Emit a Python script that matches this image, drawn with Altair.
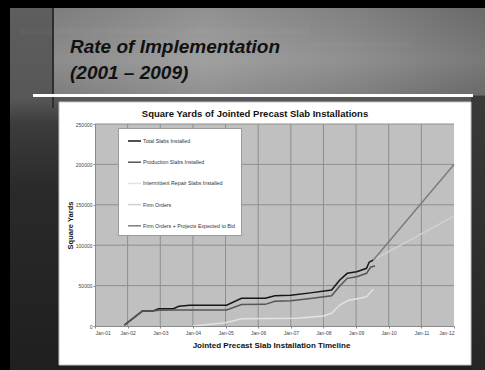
import altair as alt
import pandas as pd

# ---------------- data ----------------
series_names = [
    "Total Slabs Installed",
    "Production Slabs Installed",
    "Intermittent Repair Slabs Installed",
    "Firm Orders",
    "Firm Orders + Projects Expected to Bid",
]
series_colors = ["#161616", "#565656", "#e3e3e3", "#d0d0d0", "#7c7c7c"]

total_years = [2001.90, 2002.45, 2002.78, 2002.95, 2003.40, 2003.57, 2003.90, 2005.03,
               2005.49, 2006.22, 2006.51, 2007.00, 2007.60, 2008.25, 2008.50, 2008.73,
               2009.02, 2009.32, 2009.40, 2009.53]
total_values = [1000, 18500, 18500, 21500, 21500, 24400, 25800, 25800,
                34300, 34300, 37500, 38000, 41000, 44500, 57000, 65200,
                67200, 71400, 79000, 81700]

prod_years = [2001.90, 2002.45, 2002.78, 2002.95, 2003.40, 2005.03, 2005.49, 2006.22,
              2006.51, 2007.00, 2007.60, 2008.25, 2008.50, 2008.73, 2009.02, 2009.32,
              2009.45, 2009.58]
prod_values = [1000, 18500, 18500, 19500, 19800, 19800, 26500, 26800,
               30500, 31300, 34000, 37500, 49500, 59000, 61000, 65200,
               73000, 74300]

repair_years = [2004.00, 2005.00, 2005.50, 2007.20, 2008.00, 2008.25, 2008.50, 2008.77,
                2009.12, 2009.32, 2009.53]
repair_values = [0, 4000, 9000, 9500, 12500, 15700, 26000, 32000,
                 34300, 36300, 45400]

firm_years = [2009.53, 2012.00]
firm_values = [81700, 136000]

firm_bid_years = [2009.53, 2012.00]
firm_bid_values = [81700, 200000]

x_ticks = list(range(2001, 2013))
y_ticks = [0, 50000, 100000, 150000, 200000, 250000]
grid_years = list(range(2002, 2012))
grid_values = [50000, 100000, 150000, 200000, 250000]

rows = []
for name, ys, vs in [
    (series_names[0], total_years, total_values),
    (series_names[1], prod_years, prod_values),
    (series_names[2], repair_years, repair_values),
    (series_names[3], firm_years, firm_values),
    (series_names[4], firm_bid_years, firm_bid_values),
]:
    for y, v in zip(ys, vs):
        rows.append({"series": name, "year": y, "value": v})
df = pd.DataFrame(rows)
draw_rank = {series_names[0]: 5, series_names[1]: 4, series_names[2]: 1,
             series_names[3]: 2, series_names[4]: 3}
df["rank"] = df["series"].map(draw_rank)

# ---------------- layout ----------------
W, H = 359, 202
OX, OY = 95, 124  # plot origin on the page
FONT = "Liberation Sans"

one = pd.DataFrame({"k": [0]})


def box(x1, x2, y1, y2, **mark):
    return alt.Chart(one).mark_rect(**mark).encode(
        x=alt.value(x1 - OX), x2=alt.value(x2 - OX),
        y=alt.value(y1 - OY), y2=alt.value(y2 - OY))


def label(txt, x, y, **mark):
    return alt.Chart(one).mark_text(text=txt, **mark).encode(
        x=alt.value(x - OX), y=alt.value(y - OY))


panel = box(10, 485, 8, 370, fill=alt.Gradient(
    gradient="linear", x1=0, y1=0, x2=0, y2=1,
    stops=[alt.GradientStop(color="#5e5e5e", offset=0),
           alt.GradientStop(color="#575757", offset=0.25),
           alt.GradientStop(color="#3c3c3c", offset=0.32),
           alt.GradientStop(color="#2a2a2a", offset=0.5),
           alt.GradientStop(color="#1f1f1f", offset=1)]))
right_strip = box(471, 485, 96, 370, fill=alt.Gradient(
    gradient="linear", x1=0, y1=0, x2=0, y2=1,
    stops=[alt.GradientStop(color="#3a3a3a", offset=0),
           alt.GradientStop(color="#262626", offset=1)]))
band = box(53, 485, 8, 95, fill=alt.Gradient(
    gradient="linear", x1=0, y1=0, x2=1, y2=0,
    stops=[alt.GradientStop(color="#858585", offset=0),
           alt.GradientStop(color="#9a9a9a", offset=0.35),
           alt.GradientStop(color="#888888", offset=0.7),
           alt.GradientStop(color="#707070", offset=1)]))
band_shade = box(53, 485, 8, 95, fill=alt.Gradient(
    gradient="linear", x1=0, y1=0, x2=0, y2=1,
    stops=[alt.GradientStop(color="#000000", offset=0),
           alt.GradientStop(color="#ffffff", offset=0.6),
           alt.GradientStop(color="#000000", offset=1)]), opacity=0.06)
vline = box(52, 54, 8, 108, fill="#2e2e2e")
white_line = box(33, 473, 94, 97, fill="#ffffff")
chart_box = box(59, 471, 102, 365, fill="#ffffff", stroke="#c4c4c4", strokeWidth=1)
plot_bg = box(95, 454, 124, 326, fill="#c0c0c0")

wm1 = label("01010166464897978979645610000016641616646489797897964564101664648",
            20, 32, font=FONT, fontSize=8, color="#ffffff", opacity=0.06, align="left")
wm2 = label("6646489797897978979645",
            314, 45, font=FONT, fontSize=8, color="#ffffff", opacity=0.05, align="left")

title1 = label("Rate of Implementation", 70, 53, font=FONT, fontSize=19,
               fontWeight="bold", fontStyle="italic", color="#111111",
               align="left", baseline="alphabetic")
title2 = label("(2001 \u2013 2009)", 70, 79, font=FONT, fontSize=19,
               fontWeight="bold", fontStyle="italic", color="#111111",
               align="left", baseline="alphabetic")
chart_title = label("Square Yards of Jointed Precast Slab Installations", 255, 117,
                    font=FONT, fontSize=9.5, fontWeight="bold", color="#111111",
                    align="center", baseline="alphabetic")

x_scale = alt.Scale(domain=[2001, 2012], nice=False, zero=False)
y_scale = alt.Scale(domain=[0, 250000], nice=False)

x_axis = alt.Axis(
    values=x_ticks, labelExpr="'Jan-' + slice('' + (datum.value - 1900), 1)",
    title="Jointed Precast Slab Installation Timeline",
    titleFont=FONT, titleFontSize=8, titleFontWeight="bold", titleColor="#111111",
    titleX=176, titleY=19, titleBaseline="middle", titleAlign="center",
    labelFont=FONT, labelFontSize=5, labelColor="#444444", labelPadding=2,
    tickSize=2, tickColor="#888888", domainColor="#8a8a8a", grid=False, zindex=1)
y_axis = alt.Axis(
    values=y_ticks, format="d", title="Square Yards",
    titleFont=FONT, titleFontSize=7.5, titleFontWeight="bold", titleColor="#111111",
    titleX=-25, titleY=H / 2, titleAngle=-90, titleBaseline="middle", titleAlign="center",
    labelFont=FONT, labelFontSize=5, labelColor="#444444", labelPadding=1,
    tickSize=2, tickColor="#888888", domainColor="#8a8a8a", grid=False, zindex=1)

grid_x = alt.Chart(pd.DataFrame({"year": grid_years})).mark_rule(
    color="#8e8e8e", strokeWidth=1).encode(
    x=alt.X("year:Q", scale=x_scale, axis=x_axis), y=alt.value(0), y2=alt.value(H))
grid_y = alt.Chart(pd.DataFrame({"value": grid_values})).mark_rule(
    color="#8e8e8e", strokeWidth=1).encode(
    y=alt.Y("value:Q", scale=y_scale, axis=y_axis), x=alt.value(0), x2=alt.value(W))

lines = alt.Chart(df).mark_line(strokeWidth=1.5).encode(
    x=alt.X("year:Q", scale=x_scale, axis=x_axis),
    y=alt.Y("value:Q", scale=y_scale, axis=y_axis),
    color=alt.Color("series:N", scale=alt.Scale(domain=series_names, range=series_colors),
                    legend=alt.Legend(
                        orient="none", legendX=23, legendY=4, title=None,
                        fillColor="#ffffff", strokeColor="#9a9a9a", padding=5.5,
                        symbolOffset=3.5,
                        symbolType="stroke", symbolSize=169, symbolStrokeWidth=1.5,
                        labelFont=FONT, labelFontSize=5.3, labelColor="#333333",
                        labelOffset=1, rowPadding=10.2, cornerRadius=0)),
    order=alt.Order("year:Q"),
    detail="rank:O",
)

chart = alt.layer(
    panel, right_strip, band, band_shade, wm1, wm2, vline, white_line, title1, title2,
    chart_box, chart_title, plot_bg, grid_x, grid_y, lines,
).properties(
    width=W, height=H,
    autosize=alt.AutoSizeParams(type="none"),
    padding={"left": 95, "top": 124, "right": 31, "bottom": 44},
    background="#000000",
).configure_view(stroke=None)

chart.save("out.html", embed_options={"renderer": "svg", "actions": False})
